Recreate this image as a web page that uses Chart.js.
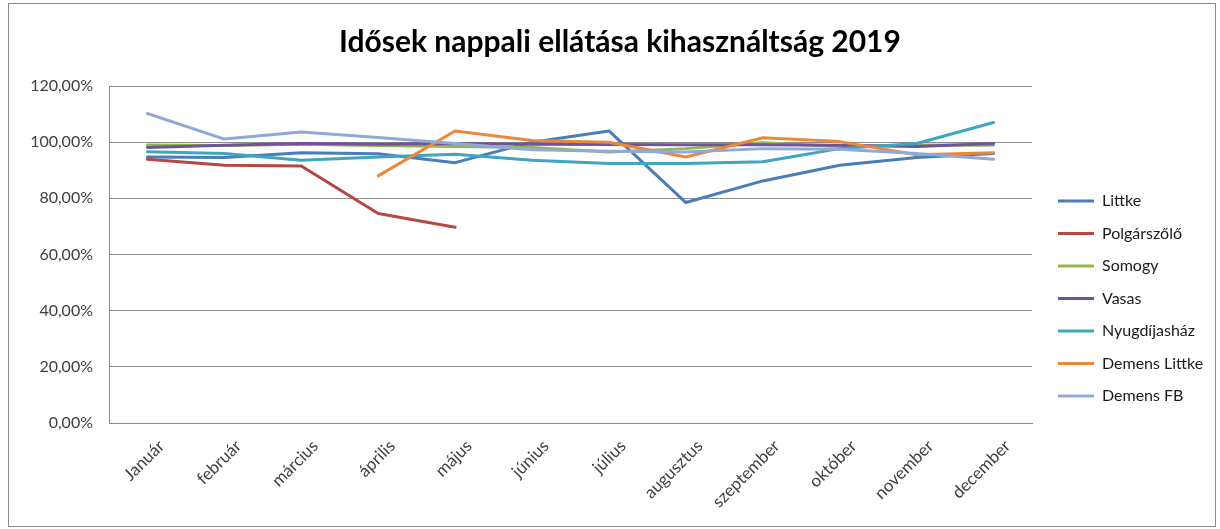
<!DOCTYPE html>
<html>
<head>
<meta charset="utf-8">
<script src="https://cdn.jsdelivr.net/npm/chart.js@4.4.1/dist/chart.umd.min.js"></script>
<style>
  html, body { margin: 0; padding: 0; background: #fff; }
  #wrap { position: relative; width: 1220px; height: 529px; }
  canvas { display: block; }
</style>
</head>
<body>
<div id="wrap"><canvas id="c" width="1220" height="529"></canvas></div>
<script>
const chartTitle = 'Idősek nappali ellátása kihasználtság 2019';
const months = ['Január', 'február', 'március', 'április', 'május', 'június', 'július', 'augusztus', 'szeptember', 'október', 'november', 'december'];
const seriesNames = ['Littke', 'Polgárszőlő', 'Somogy', 'Vasas', 'Nyugdíjasház', 'Demens Littke', 'Demens FB'];
const littke = [94.7, 94.5, 96.2, 95.9, 92.7, 100.0, 104.0, 78.5, 86.2, 91.8, 94.5, 96.0];
const polgarszolo = [93.9, 91.8, 91.5, 74.6, 69.7, null, null, null, null, null, null, null];
const somogy = [99.0, 98.8, 99.3, 98.8, 98.5, 98.1, 96.5, 97.7, 99.8, 98.5, 99.0, 98.9];
const vasas = [98.1, 98.9, 99.5, 99.3, 99.5, 99.3, 99.2, 99.1, 99.1, 98.9, 98.5, 99.5];
const nyugdijashaz = [96.6, 96.0, 93.6, 94.7, 95.7, 93.6, 92.4, 92.4, 93.0, 97.7, 99.5, 107.0];
const demensLittke = [null, null, null, 88.0, 104.0, 100.6, 100.0, 94.7, 101.6, 100.2, 95.5, 96.2];
const demensFB = [110.2, 101.1, 103.6, 101.7, 99.5, 97.3, 96.8, 96.5, 97.7, 97.5, 96.0, 93.9];
const yTicks = [0, 20, 40, 60, 80, 100, 120];
const colors = ['#4A7DBA', '#B74743', '#93B850', '#71539A', '#40A5BF', '#EB8839', '#8FAAD7'];

const seriesValues = [littke, polgarszolo, somogy, vasas, nyugdijashaz, demensLittke, demensFB];

const datasets = seriesNames.map((name, i) => ({
  label: name,
  data: seriesValues[i],
  borderColor: colors[i],
  backgroundColor: colors[i],
  borderWidth: 3,
  pointRadius: 0,
  pointHoverRadius: 0,
  tension: 0,
  borderJoinStyle: 'round',
  borderCapStyle: 'round',
  spanGaps: false,
  order: seriesNames.length - i
}));

const LEGEND_ITEM_X = 1058;
const PLOT_RIGHT = 1032;
const LEGEND_SHIFT_Y = 36;

const layoutPlugin = {
  id: 'layoutTweak',
  afterInit(chart) {
    const lg = chart.legend;
    if (lg && !lg._patched) {
      const orig = lg.fit;
      lg.fit = function () {
        orig.call(this);
        if (!this.isHorizontal()) this.width = 1220 - PLOT_RIGHT;
      };
      lg._patched = true;
    }
  },
  afterLayout(chart) {
    const lg = chart.legend;
    if (!lg) return;
    const pad = lg.options.labels.padding;
    lg.left = LEGEND_ITEM_X - pad;
    lg.top += LEGEND_SHIFT_Y;
    lg.bottom += LEGEND_SHIFT_Y;
  },
  beforeDraw(chart) {
    const ctx = chart.ctx;
    ctx.save();
    ctx.fillStyle = '#ffffff';
    ctx.fillRect(0, 0, chart.width, chart.height);
    ctx.strokeStyle = '#8c8c8c';
    ctx.lineWidth = 1;
    ctx.strokeRect(8.5, 3.5, 1207, 523);
    ctx.restore();
  }
};

new Chart(document.getElementById('c'), {
  type: 'line',
  data: { labels: months, datasets },
  plugins: [layoutPlugin],
  options: {
    responsive: false,
    devicePixelRatio: 1,
    animation: false,
    events: [],
    layout: { padding: { top: 4, left: 20, right: 0, bottom: 8 } },
    plugins: {
      tooltip: { enabled: false },
      title: {
        display: true,
        text: chartTitle,
        color: '#000',
        font: { family: 'Lato', size: 30, weight: 'bold', lineHeight: 1.2 },
        padding: { top: 20, bottom: 26 }
      },
      legend: {
        position: 'right',
        align: 'center',
        labels: {
          color: '#1a1a1a',
          font: { family: 'Lato', size: 16 },
          boxWidth: 36,
          boxHeight: 3,
          padding: 16.5,
          sort: (a, b) => a.datasetIndex - b.datasetIndex,
          generateLabels(chart) {
            const items = Chart.defaults.plugins.legend.labels.generateLabels(chart);
            items.forEach(it => {
              const c = colors[it.datasetIndex];
              it.fillStyle = c;
              it.strokeStyle = c;
              it.lineWidth = 0;
            });
            return items;
          }
        }
      }
    },
    scales: {
      x: {
        offset: true,
        grid: { display: false, drawTicks: false },
        border: { display: true, color: '#8c8c8c', width: 1 },
        ticks: {
          color: '#404040',
          font: { family: 'Lato', size: 17 },
          maxRotation: 45,
          minRotation: 45,
          autoSkip: false,
          padding: 13,
          labelOffset: 14
        },
        afterFit(scale) { scale.height = 529 - 8 - 423; }
      },
      y: {
        min: 0,
        max: 120,
        afterBuildTicks(scale) { scale.ticks = yTicks.map(v => ({ value: v })); },
        grid: { color: '#8c8c8c', lineWidth: 1, drawTicks: false },
        border: { display: true, color: '#8c8c8c', width: 1 },
        ticks: {
          color: '#404040',
          font: { family: 'Lato', size: 16 },
          padding: 16,
          callback: v => v.toFixed(2).replace('.', ',') + '%'
        },
        afterFit(scale) { scale.width = 109 - 20; }
      }
    }
  }
});
</script>
</body>
</html>
